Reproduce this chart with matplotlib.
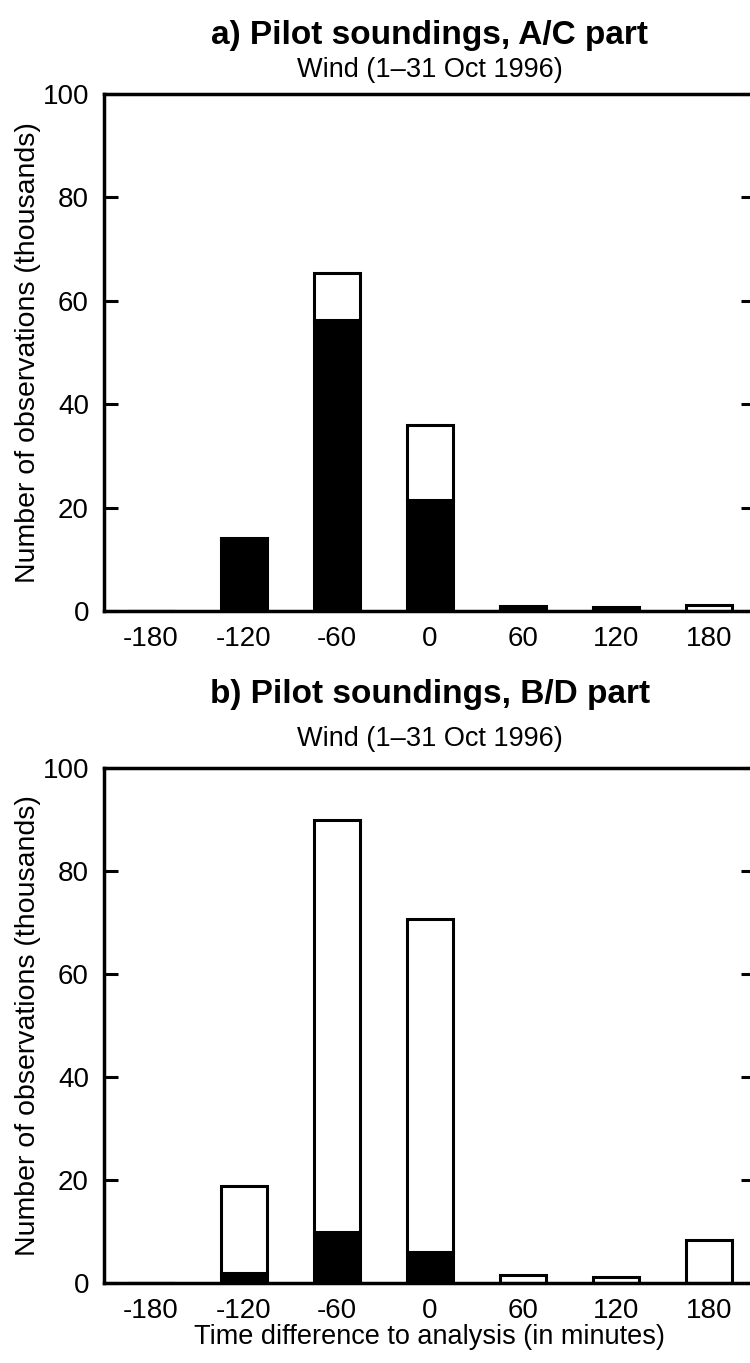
import numpy as np
import matplotlib.pyplot as plt

plt.rcParams['font.family'] = ['Liberation Sans', 'DejaVu Sans']

# time offsets (minutes) and observation counts (thousands)
offsets = [-180, -120, -60, 0, 60, 120, 180]

ac_total = [0.0, 14.2, 65.3, 35.9, 0.9, 0.7, 1.2]
ac_black = [0.0, 14.0, 56.3, 21.4, 0.6, 0.6, 0.0]

bd_total = [0.0, 18.8, 90.0, 70.6, 1.6, 1.2, 8.3]
bd_black = [0.0, 1.9, 9.9, 6.0, 0.0, 0.0, 0.0]

yticks = [0, 20, 40, 60, 80, 100]

fig = plt.figure(figsize=(7.5, 13.63), dpi=100)
ax_a = fig.add_axes([0.139, 0.5517, 0.868, 0.3793])
ax_b = fig.add_axes([0.139, 0.0587, 0.868, 0.3778])


def draw_panel(ax, total, black, title, title_y, sub_y):
    total = np.array(total)
    black = np.array(black)
    white = total - black
    ax.bar(offsets, black, width=30, color='black', edgecolor='black',
           linewidth=2.2, zorder=2)
    ax.bar(offsets, white, bottom=black, width=30, color='white',
           edgecolor='black', linewidth=2.2, zorder=2)
    ax.set_xlim(-210, 210)
    ax.set_ylim(0, 100)
    ax.set_xticks(offsets)
    ax.set_xticklabels([str(o) for o in offsets])
    ax.set_yticks(yticks)
    ax.tick_params(axis='x', length=0, labelsize=20, pad=11)
    ax.tick_params(axis='y', direction='in', length=10, width=2.2,
                   labelsize=20, right=True, pad=11)
    for s in ax.spines.values():
        s.set_linewidth(2.5)
    ax.set_ylabel('Number of observations (thousands)', fontsize=20.5,
                  labelpad=1)
    ax.text(0.5, title_y, title, transform=ax.transAxes, ha='center',
            va='center', fontsize=24, fontweight='bold')
    ax.text(0.5, sub_y, 'Wind (1\u201331 Oct 1996)', transform=ax.transAxes,
            ha='center', va='center', fontsize=19.5)


draw_panel(ax_a, ac_total, ac_black, 'a) Pilot soundings, A/C part',
           1.114, 1.046)
draw_panel(ax_b, bd_total, bd_black, 'b) Pilot soundings, B/D part',
           1.142, 1.056)
ax_b.set_xlabel('Time difference to analysis (in minutes)', fontsize=19.5,
                labelpad=0)

fig.savefig('out.png', dpi=100, facecolor='white')
